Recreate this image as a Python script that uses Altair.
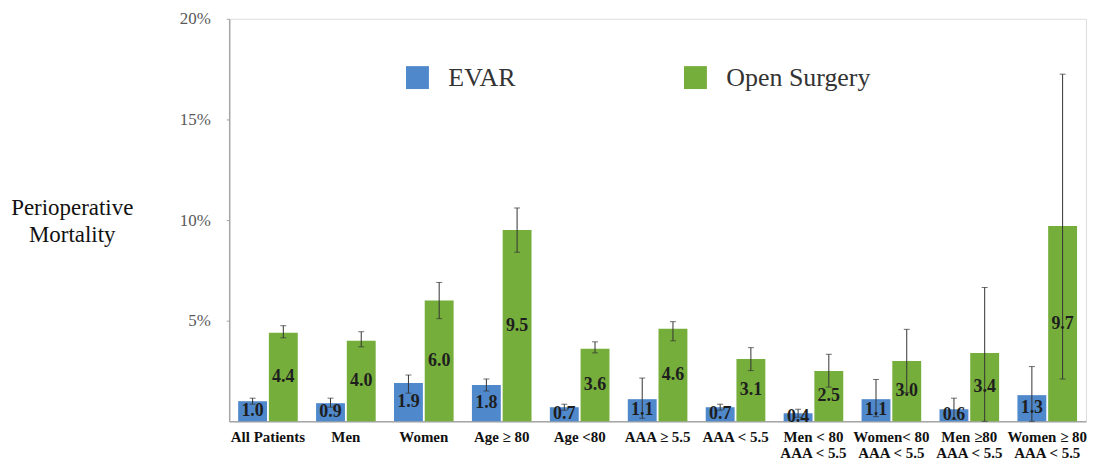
import altair as alt
import pandas as pd

categories = ["All Patients", "Men", "Women", "Age ≥ 80", "Age <80", "AAA ≥ 5.5",
              "AAA < 5.5", "Men < 80\nAAA < 5.5", "Women< 80\nAAA < 5.5",
              "Men ≥80\nAAA < 5.5", "Women ≥ 80\nAAA < 5.5"]
series = ["EVAR", "Open Surgery"]
evar = [1.0, 0.9, 1.9, 1.8, 0.7, 1.1, 0.7, 0.4, 1.1, 0.6, 1.3]
evar_lo = [0.85, 0.7, 1.4, 1.5, 0.55, 0.15, 0.55, 0.2, 0.23, 0.1, 0.0]
evar_hi = [1.15, 1.15, 2.3, 2.1, 0.85, 2.15, 0.85, 0.6, 2.08, 1.15, 2.72]
open_surg = [4.4, 4.0, 6.0, 9.5, 3.6, 4.6, 3.1, 2.5, 3.0, 3.4, 9.7]
open_lo = [4.15, 3.7, 5.1, 8.4, 3.4, 4.0, 2.52, 1.7, 1.43, 0.0, 2.1]
open_hi = [4.75, 4.45, 6.9, 10.6, 3.95, 4.95, 3.66, 3.33, 4.57, 6.65, 17.25]
colors = ["#4F89CC", "#76AE3C"]

rows = []
for i, c in enumerate(categories):
    rows.append({"cat": c, "series": series[0], "v": evar[i], "lo": evar_lo[i], "hi": evar_hi[i]})
    rows.append({"cat": c, "series": series[1], "v": open_surg[i], "lo": open_lo[i], "hi": open_hi[i]})
df = pd.DataFrame(rows)
df["mid"] = df["v"] / 2
df["lab"] = df["v"].map(lambda x: f"{x:.1f}")

serif = "Liberation Serif, Times New Roman, serif"

x_enc = alt.X("cat:N", sort=categories, title=None,
              scale=alt.Scale(paddingInner=0.235, paddingOuter=0.115),
              axis=alt.Axis(labelExpr="split(datum.label, '\\n')", labelAngle=0,
                            labelFont=serif, labelFontWeight="bold", labelFontSize=15,
                            labelColor="#111", labelPadding=8, labelLineHeight=16,
                            ticks=False, domainColor="#a6a6a6", domainWidth=1.5,
                            labelLimit=200))
xo = alt.XOffset("series:N", sort=series, scale=alt.Scale(paddingInner=0.06))

base = alt.Chart(df)

bars = base.mark_bar().encode(
    x=x_enc,
    xOffset=xo,
    y=alt.Y("v:Q", scale=alt.Scale(domain=[0, 20], nice=False),
            title=["Perioperative", "Mortality"],
            axis=alt.Axis(values=[5, 10, 15, 20], labelExpr="datum.value + '%'",
                          grid=False, labelFont=serif, labelFontSize=17,
                          labelColor="#595959", labelPadding=16, tickSize=3,
                          tickColor="#a6a6a6", domainColor="#a6a6a6", domainWidth=1.5,
                          titleAngle=0, titleFont=serif, titleFontSize=23,
                          titleFontWeight="normal", titleColor="#111",
                          titleX=-158, titleY=189, titleAlign="center",
                          titleBaseline="middle", titleLineHeight=28)),
    color=alt.Color("series:N", sort=series,
                    scale=alt.Scale(domain=series, range=colors),
                    legend=alt.Legend(title=None, orient="none", legendX=176, legendY=46,
                                      direction="horizontal", symbolType="square",
                                      symbolSize=529, symbolStrokeWidth=0,
                                      labelFont=serif, labelFontSize=26,
                                      labelColor="#333", labelOffset=18,
                                      columnPadding=167, padding=0)),
)

rules = base.mark_rule(color="#333", strokeWidth=1).encode(
    x=alt.X("cat:N", sort=categories),
    xOffset=xo,
    y="lo:Q",
    y2="hi:Q",
)

caps_hi = base.mark_tick(color="#333", thickness=1, size=6, orient="horizontal").encode(
    x=alt.X("cat:N", sort=categories), xOffset=xo, y="hi:Q")
caps_lo = base.mark_tick(color="#333", thickness=1, size=6, orient="horizontal").encode(
    x=alt.X("cat:N", sort=categories), xOffset=xo, y="lo:Q")

labels = base.mark_text(font=serif, fontWeight="bold", fontSize=18, color="#1e1e1e",
                        baseline="middle").encode(
    x=alt.X("cat:N", sort=categories), xOffset=xo, y="mid:Q", text="lab:N")

chart = alt.layer(bars, rules, caps_hi, caps_lo, labels).properties(
    width=860, height=404,
    autosize=alt.AutoSizeParams(type="none"),
    padding={"left": 222, "top": 10, "right": 2, "bottom": 40},
).configure_view(stroke="#a6a6a6", strokeWidth=1.5).configure(background="white")

chart.save("out.html", embed_options={"renderer": "svg", "actions": False})
